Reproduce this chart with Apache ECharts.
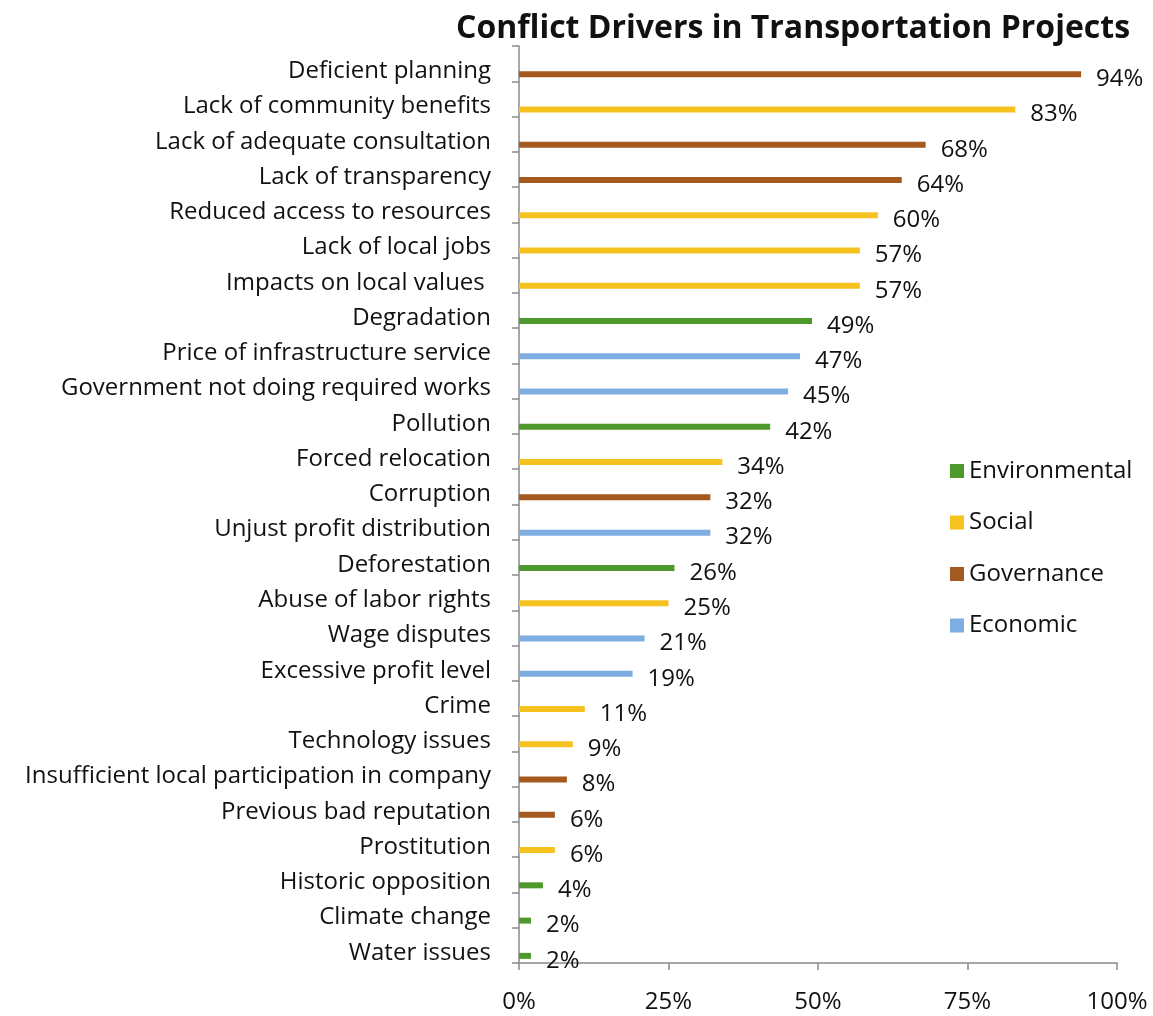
<!DOCTYPE html>
<html>
<head>
<meta charset="utf-8">
<script src="https://cdn.jsdelivr.net/npm/echarts@6/dist/echarts.min.js"></script>
<style>
  html, body { margin: 0; padding: 0; background: #ffffff; }
  #chart { width: 1153px; height: 1016px; }
</style>
</head>
<body>
<div id="chart"></div>
<script>
// Conflict drivers, listed from top to bottom
const drivers = [
  'Deficient planning',
  'Lack of community benefits',
  'Lack of adequate consultation',
  'Lack of transparency',
  'Reduced access to resources',
  'Lack of local jobs',
  'Impacts on local values ',
  'Degradation',
  'Price of infrastructure service',
  'Government not doing required works',
  'Pollution',
  'Forced relocation',
  'Corruption',
  'Unjust profit distribution',
  'Deforestation',
  'Abuse of labor rights',
  'Wage disputes',
  'Excessive profit level',
  'Crime',
  'Technology issues',
  'Insufficient local participation in company',
  'Previous bad reputation',
  'Prostitution',
  'Historic opposition',
  'Climate change',
  'Water issues'
];

// Share of projects citing each driver (%)
const shares = [94, 83, 68, 64, 60, 57, 57, 49, 47, 45, 42, 34, 32, 32, 26, 25, 21, 19, 11, 9, 8, 6, 6, 4, 2, 2];

// Driver category of each row
const driverGroups = [
  'Governance', 'Social', 'Governance', 'Governance', 'Social', 'Social', 'Social',
  'Environmental', 'Economic', 'Economic', 'Environmental', 'Social', 'Governance',
  'Economic', 'Environmental', 'Social', 'Economic', 'Economic', 'Social', 'Social',
  'Governance', 'Governance', 'Social', 'Environmental', 'Environmental', 'Environmental'
];

const groupNames = ['Environmental', 'Social', 'Governance', 'Economic'];

// x-axis ticks (%)
const axisMin = 0;
const axisMax = 100;
const axisStep = 25;

const palette = {
  Environmental: '#4E992C',
  Social: '#F5C21F',
  Governance: '#A5591F',
  Economic: '#7EADE2'
};

const FONT = 'Open Sans';
const INK = '#111111';
const AXIS_GRAY = '#8a8a8a';

const chart = echarts.init(document.getElementById('chart'), null, { renderer: 'canvas' });

// Empty spacer stack: pushes the visible bars below the band centre
const spacer = {
  name: 'spacer',
  type: 'bar',
  stack: 'spacer',
  barWidth: 6,
  barGap: '250%',
  silent: true,
  data: drivers.map(() => '-')
};

const groupSeries = groupNames.map(g => ({
  name: g,
  type: 'bar',
  stack: 'drivers',
  barWidth: 6,
  barGap: '250%',
  itemStyle: { color: palette[g] },
  label: {
    show: true,
    position: 'right',
    distance: 15,
    offset: [0, 5],
    formatter: '{c}%',
    fontFamily: FONT,
    fontSize: 24,
    color: INK
  },
  data: shares.map((v, i) => (driverGroups[i] === g ? v : '-'))
}));

chart.setOption({
  backgroundColor: '#ffffff',
  animation: false,
  title: {
    text: 'Conflict Drivers in Transportation Projects',
    left: 451,
    top: 8,
    textStyle: { fontFamily: FONT, fontWeight: 'bold', fontSize: 32, color: INK }
  },
  legend: {
    data: groupNames,
    orient: 'vertical',
    left: 945,
    top: 454,
    itemWidth: 14,
    itemHeight: 14,
    itemGap: 27.5,
    icon: 'rect',
    textStyle: { fontFamily: FONT, fontSize: 24, color: INK }
  },
  grid: { left: 519, right: 36, top: 46, bottom: 53, containLabel: false },
  xAxis: {
    type: 'value',
    min: axisMin,
    max: axisMax,
    interval: axisStep,
    splitLine: { show: false },
    axisLine: { show: true, lineStyle: { color: AXIS_GRAY, width: 1.5 } },
    axisTick: { show: true, length: 7, lineStyle: { color: AXIS_GRAY, width: 1.5 } },
    axisLabel: {
      formatter: '{value}%',
      margin: 27,
      fontFamily: FONT,
      fontSize: 24,
      color: INK
    }
  },
  yAxis: {
    type: 'category',
    inverse: true,
    data: drivers,
    axisLine: { show: true, lineStyle: { color: AXIS_GRAY, width: 1.5 } },
    axisTick: { show: true, length: 7, alignWithLabel: false, lineStyle: { color: AXIS_GRAY, width: 1.5 } },
    axisLabel: {
      margin: 28,
      formatter: v => '{name|' + v + '}',
      rich: {
        name: {
          fontFamily: FONT,
          fontSize: 24,
          color: INK,
          padding: [15, 0, 0, 0]
        }
      }
    }
  },
  series: [spacer].concat(groupSeries)
});
</script>
</body>
</html>
